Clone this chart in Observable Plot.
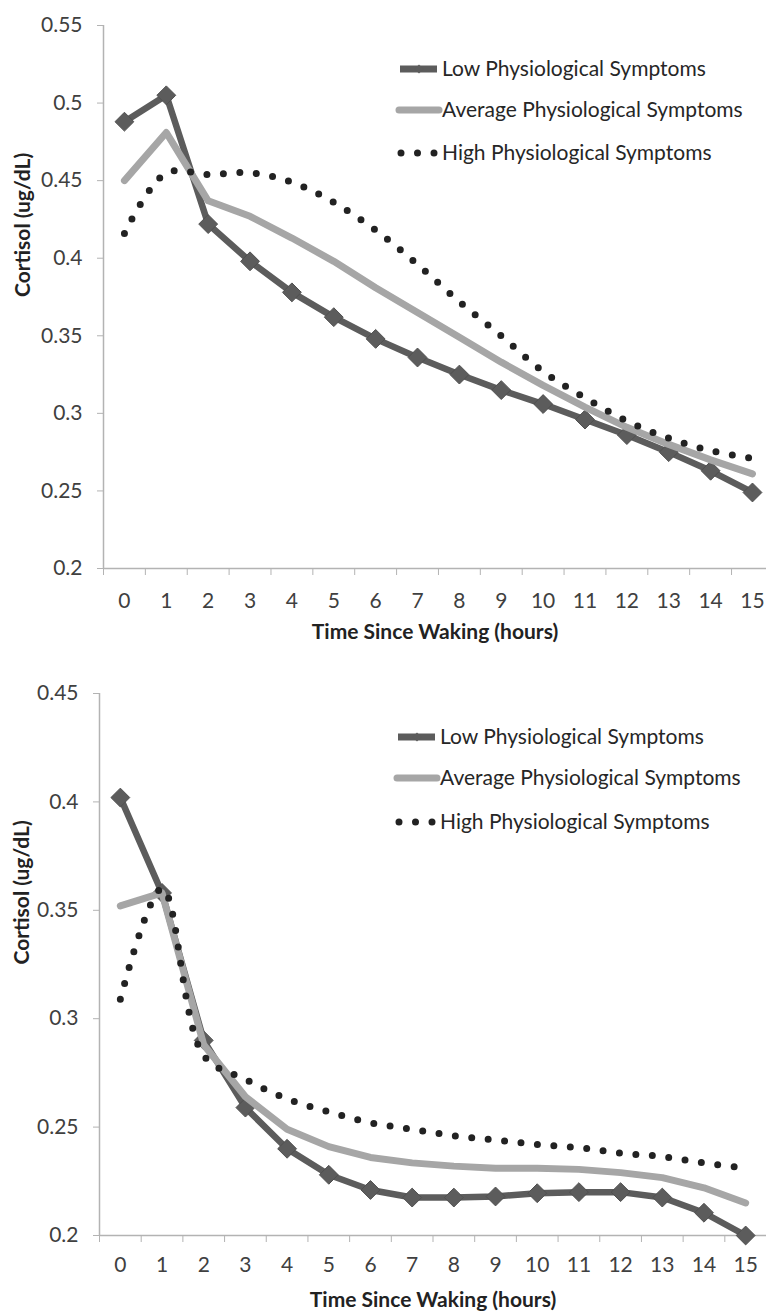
<!DOCTYPE html>
<html>
<head>
<meta charset="utf-8">
<script src="https://cdn.jsdelivr.net/npm/d3@7"></script>
<script src="https://cdn.jsdelivr.net/npm/@observablehq/plot@0.6"></script>
<style>
  html, body { margin: 0; padding: 0; background: #fff; }
  #charts svg { display: block; }
</style>
</head>
<body>
<div id="charts"></div>
<script>
// ---- data ----
const hours = [0, 1, 2, 3, 4, 5, 6, 7, 8, 9, 10, 11, 12, 13, 14, 15];
const xTickMarks = [-0.5, 0.5, 1.5, 2.5, 3.5, 4.5, 5.5, 6.5, 7.5, 8.5, 9.5, 10.5, 11.5, 12.5, 13.5, 14.5, 15.5];
const seriesNames = ["Low Physiological Symptoms", "Average Physiological Symptoms", "High Physiological Symptoms"];
const xTitle = "Time Since Waking (hours)";
const yTitle = "Cortisol (ug/dL)";

// Panel 1
const yTicks1 = [0.2, 0.25, 0.3, 0.35, 0.4, 0.45, 0.5, 0.55];
const low1  = [0.488, 0.505, 0.422, 0.398, 0.378, 0.362, 0.348, 0.336, 0.325, 0.315, 0.306, 0.296, 0.286, 0.275, 0.263, 0.249];
const avg1  = [0.450, 0.481, 0.437, 0.427, 0.413, 0.398, 0.381, 0.365, 0.349, 0.333, 0.318, 0.304, 0.291, 0.280, 0.270, 0.261];
const high1 = [0.416, 0.455, 0.454, 0.455, 0.449, 0.436, 0.418, 0.396, 0.372, 0.350, 0.327, 0.310, 0.295, 0.284, 0.276, 0.271];

// Panel 2
const yTicks2 = [0.2, 0.25, 0.3, 0.35, 0.4, 0.45];
const low2  = [0.402, 0.358, 0.290, 0.259, 0.240, 0.228, 0.221, 0.2175, 0.2175, 0.218, 0.2195, 0.220, 0.220, 0.2175, 0.2105, 0.200];
const avg2  = [0.352, 0.358, 0.288, 0.264, 0.249, 0.241, 0.236, 0.2335, 0.232, 0.231, 0.231, 0.2305, 0.229, 0.2267, 0.222, 0.215];
const high2 = [0.309, 0.360, 0.283, 0.272, 0.263, 0.257, 0.252, 0.249, 0.246, 0.244, 0.242, 0.2405, 0.238, 0.2364, 0.2335, 0.231];

const colors = {low: "#5c5c5c", avg: "#a6a6a6", high: "#222222", axis: "#b3b3b3", text: "#404040"};

function rows(values) { return hours.map((h, i) => ({hour: h, value: values[i]})); }

function makeChart(cfg) {
  const L = rows(cfg.low), A = rows(cfg.avg), H = rows(cfg.high);
  const svg = Plot.plot({
    width: 766,
    height: cfg.height,
    marginLeft: cfg.marginLeft,
    marginRight: 0,
    marginTop: cfg.marginTop,
    marginBottom: cfg.marginBottom,
    style: {fontFamily: "Lato, 'Open Sans', sans-serif", fontSize: "21px", color: colors.text, background: "#fff", overflow: "visible"},
    x: {type: "linear", domain: cfg.xDomain, axis: null, label: null},
    y: {domain: [cfg.yTicks[0], cfg.yTicks[cfg.yTicks.length - 1]], axis: null, label: null},
    marks: [
      Plot.ruleX([-0.5], {stroke: colors.axis, strokeWidth: 1.5}),
      Plot.ruleY([cfg.yTicks[0]], {stroke: colors.axis, strokeWidth: 1.5}),
      Plot.axisY({ticks: cfg.yTicks, tickSize: 6, tickPadding: 15, tickFormat: d => String(d), stroke: colors.axis, fill: colors.text, label: null}),
      Plot.axisX({ticks: xTickMarks, tickSize: 7, tickFormat: () => "", stroke: colors.axis, label: null}),
      Plot.axisX({ticks: hours, tickSize: 0, tickPadding: cfg.xLabelPad, tickFormat: d => String(d), fill: colors.text, label: null}),
      Plot.line(L, {x: "hour", y: "value", stroke: colors.low, strokeWidth: 6.5, strokeLinejoin: "round"}),
      Plot.dot(L, {x: "hour", y: "value", symbol: "diamond2", r: 8.5, fill: colors.low, stroke: "#505050", strokeWidth: 1}),
      Plot.line(A, {x: "hour", y: "value", stroke: colors.avg, strokeWidth: 7, strokeLinecap: "round", strokeLinejoin: "round"}),
      Plot.line(H, {x: "hour", y: "value", curve: "catmull-rom", stroke: colors.high, strokeWidth: 7, strokeLinecap: "round", strokeDasharray: "0 16.5"}),
      Plot.text([xTitle], {text: d => d, frameAnchor: "bottom", dy: cfg.xTitleDy, fontWeight: "bold", fill: "#222"}),
      Plot.text([yTitle], {text: d => d, frameAnchor: "left", dx: cfg.yTitleDx, rotate: -90, fontWeight: "bold", fill: "#222"})
    ]
  });

  // legend (inside plot area, top right)
  const g = d3.select(svg).append("g")
    .attr("font-family", "Lato, 'Open Sans', sans-serif")
    .attr("font-size", 21)
    .attr("text-anchor", "start")
    .attr("fill", "#262626");
  cfg.legendY.forEach((ly, i) => {
    const row = g.append("g").attr("transform", `translate(0,${ly})`);
    const x0 = cfg.legendX;
    if (i === 0) {
      row.append("line").attr("x1", x0).attr("x2", x0 + 37).attr("y1", 0).attr("y2", 0)
        .attr("stroke", colors.low).attr("stroke-width", 7);
      row.append("path").attr("d", d3.symbol(d3.symbolDiamond2, 50)()).attr("transform", `translate(${x0 + 19},0)`)
        .attr("fill", colors.low);
    } else if (i === 1) {
      row.append("line").attr("x1", x0 - 1).attr("x2", x0 + 39).attr("y1", 0).attr("y2", 0)
        .attr("stroke", colors.avg).attr("stroke-width", 7).attr("stroke-linecap", "round");
    } else {
      row.append("line").attr("x1", x0 + 1).attr("x2", x0 + 35).attr("y1", 0).attr("y2", 0)
        .attr("stroke", colors.high).attr("stroke-width", 7).attr("stroke-linecap", "round")
        .attr("stroke-dasharray", "0 16.5");
    }
    row.append("text").attr("x", x0 + 42).attr("y", 0).attr("dy", "0.35em").attr("text-anchor", "start").text(seriesNames[i]);
  });
  return svg;
}

const container = document.getElementById("charts");
container.appendChild(makeChart({
  height: 655, marginLeft: 103, marginTop: 25, marginBottom: 87,
  xDomain: [-0.5, 15.335], yTicks: yTicks1,
  low: low1, avg: avg1, high: high1,
  xLabelPad: 25, xTitleDy: 70, yTitleDx: -80,
  legendX: 400, legendY: [69, 110, 153]
}));
container.appendChild(makeChart({
  height: 656, marginLeft: 99, marginTop: 38, marginBottom: 76,
  xDomain: [-0.5, 15.5], yTicks: yTicks2,
  low: low2, avg: avg2, high: high2,
  xLabelPad: 22, xTitleDy: 71, yTitleDx: -77,
  legendX: 398, legendY: [82, 123, 167]
}));
</script>
</body>
</html>
